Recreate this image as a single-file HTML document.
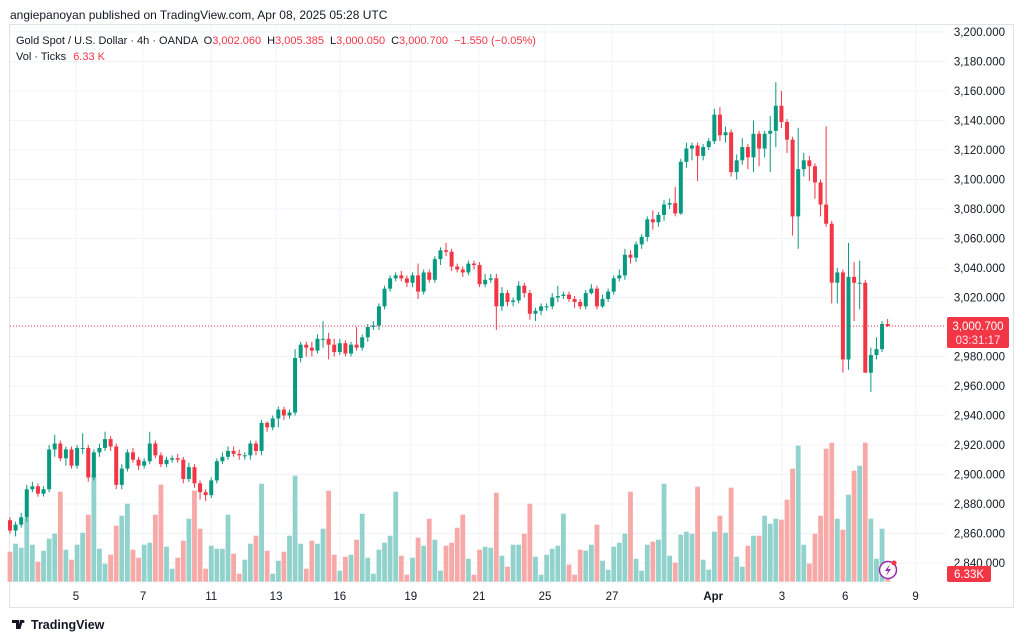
<!DOCTYPE html>
<html><head><meta charset="utf-8"><style>
html,body{margin:0;padding:0;background:#fff;width:1024px;height:641px;overflow:hidden}
svg{display:block;font-family:"Liberation Sans",sans-serif}
</style></head><body>
<svg id="chart" width="1024" height="641" viewBox="0 0 1024 641" xmlns="http://www.w3.org/2000/svg">
<rect x="0" y="0" width="1024" height="641" fill="#fff"/>
<text x="10" y="19" font-size="12" fill="#131722">angiepanoyan published on TradingView.com, Apr 08, 2025 05:28 UTC</text>
<rect x="9.5" y="24.5" width="1004" height="583" fill="none" stroke="#e0e3eb"/>
<g id="grid"></g>
<g id="vols"></g>
<g id="candles"></g>
<line x1="10" x2="946" y1="326" y2="326" stroke="#f23645" stroke-width="1" stroke-dasharray="1,2"/>
<g id="yaxis"></g>
<g id="xaxis"></g>
<g font-size="11">
<text x="16" y="44" fill="#131722">Gold Spot / U.S. Dollar · 4h · OANDA <tspan dx="3">O</tspan><tspan fill="#f23645">3,002.060</tspan><tspan dx="6">H</tspan><tspan fill="#f23645">3,005.385</tspan><tspan dx="6">L</tspan><tspan fill="#f23645">3,000.050</tspan><tspan dx="6">C</tspan><tspan fill="#f23645">3,000.700</tspan><tspan dx="6" fill="#f23645">−1.550 (−0.05%)</tspan></text>
<text x="16" y="60" fill="#131722">Vol · Ticks <tspan dx="4" fill="#f23645">6.33 K</tspan></text>
</g>
<g>
<rect x="947" y="317" width="62" height="31" rx="2" fill="#f23645"/>
<text x="978" y="330" font-size="11.5" fill="#fff" text-anchor="middle">3,000.700</text>
<text x="978" y="344" font-size="11.5" fill="#fde" text-anchor="middle">03:31:17</text>
</g>
<g>
<rect x="947" y="566" width="44" height="16" rx="2" fill="#f23645"/>
<text x="969" y="578" font-size="11.5" fill="#fff" text-anchor="middle">6.33K</text>
</g>
<g>
<circle cx="888" cy="570" r="8.5" fill="#fff" stroke="#9c27b0" stroke-width="1.5"/>
<path d="M890 564 L885 571 L888 571 L886 576 L891 569 L888 569 Z" fill="#9c27b0"/>
<circle cx="894" cy="563" r="2.5" fill="#f23645"/>
</g>
<g>
<path d="M12 620 h7 v9 h-3 v-6 h-4 z M20 620 h3 l-2.5 9 h-2.5 z" fill="#131722"/>
<circle cx="23" cy="621.5" r="1.5" fill="#131722"/>
<text x="31" y="629" font-size="12.5" font-weight="bold" fill="#131722">TradingView</text>
</g>
</svg>
<script>
const closes = [2862,2866,2871,2890,2892,2887,2890,2917,2921,2911, 2917,2906,2918,2918,2898,2915,2918,2924,2919,2893, 2904,2915,2910,2906,2909,2921,2913,2907,2910,2911, 2910,2897,2905,2894,2888,2886,2896,2909,2912,2916, 2914,2913,2913,2921,2916,2935,2932,2938,2944,2940, 2942,2979,2988,2986,2984,2992,2992,2988,2983,2989, 2982,2988,2986,2993,3000,3001,3014,3026,3033,3035, 3033,3030,3035,3024,3037,3032,3046,3052,3051,3041, 3039,3037,3043,3042,3029,3032,3033,3014,3023,3017, 3018,3028,3023,3009,3011,3014,3014,3020,3021,3022, 3019,3017,3014,3023,3026,3014,3019,3024,3033,3035, 3049,3047,3056,3061,3073,3071,3076,3083,3084,3077, 3112,3121,3123,3116,3122,3126,3144,3130,3132,3105, 3113,3122,3115,3131,3121,3131,3133,3150,3139,3127, 3075,3107,3113,3109,3098,3083,3070,3030,3037,2978, 3034,3030,3030,2969,2981,2985,3002.06,3000.7];
const firstOpen = 2869;
const highs = [2871,2868,2874,2893,2895,2894,2892,2920,2927,2923, 2919,2919,2920,2928,2920,2917,2921,2929,2926,2921, 2907,2917,2918,2912,2911,2929,2923,2915,2912,2913, 2914,2912,2908,2907,2896,2890,2898,2911,2915,2919, 2919,2917,2915,2923,2923,2937,2936,2940,2946,2946, 2944,2985,2990,2990,2990,2995,3004,2996,2992,2992, 2991,2990,3000,2995,3002,3004,3016,3028,3035,3037, 3038,3035,3037,3043,3039,3039,3048,3054,3057,3053, 3043,3041,3045,3045,3044,3036,3036,3036,3027,3025, 3020,3031,3030,3025,3013,3016,3016,3023,3028,3024, 3024,3021,3019,3025,3029,3028,3022,3026,3035,3039, 3053,3052,3058,3063,3075,3079,3078,3086,3087,3095, 3114,3125,3125,3125,3124,3128,3148,3149,3136,3134, 3117,3128,3124,3140,3133,3133,3143,3166,3160,3141, 3129,3135,3118,3116,3111,3100,3136,3072,3040,3039, 3057,3044,3045,3032,2986,2993,3004,3005.4];
const lows = [2860,2858,2864,2868,2888,2885,2885,2888,2912,2909, 2906,2904,2904,2914,2895,2896,2912,2916,2916,2890, 2890,2902,2908,2903,2904,2907,2911,2905,2905,2908, 2908,2894,2895,2891,2883,2882,2884,2894,2907,2910, 2912,2910,2910,2910,2913,2913,2929,2930,2932,2937, 2938,2940,2976,2980,2980,2982,2986,2978,2980,2981, 2980,2980,2984,2984,2990,2998,2998,3012,3024,3031, 3031,3027,3027,3019,3022,3030,3030,3042,3048,3038, 3037,3034,3035,3039,3027,3027,3030,2998,3011,3014, 3014,3016,3020,3005,3004,3008,3011,3012,3017,3019, 3017,3013,3012,3012,3022,3012,3013,3017,3022,3031, 3032,3043,3044,3053,3058,3066,3068,3072,3080,3075, 3076,3108,3113,3099,3113,3120,3124,3126,3125,3102, 3100,3110,3107,3105,3109,3115,3105,3122,3135,3118, 3062,3053,3102,3099,3087,3075,3068,3016,3016,2969, 2971,3004,3012,2969,2956,2978,2983,3000];
const volumes = [30,38,34,64,37,20,31,43,48,90, 32,22,37,49,67,108,33,18,27,56, 66,78,32,24,37,39,67,97,35,13, 24,41,63,91,53,13,36,33,33,67, 28,8,22,38,46,98,31,8,21,30, 46,106,38,13,41,38,53,91,27,11, 25,27,42,68,24,8,32,39,46,90, 26,7,24,44,36,63,42,11,36,39, 54,67,23,7,32,35,34,89,26,15, 37,37,48,78,25,7,27,33,36,68, 17,7,32,31,37,57,21,12,35,39, 48,90,23,11,37,40,42,98,26,19, 47,50,48,95,22,12,50,66,49,94, 25,15,36,46,46,66,58,63,62,82, 113,136,37,18,48,66,133,139,63,52, 87,111,116,139,63,23,53,3];
const priceTicks = [2840,2860,2880,2900,2920,2940,2960,2980,3000,3020,3040,3060,3080,3100,3120,3140,3160,3180,3200];
const dateLabels = ['5','7','11','13','16','19','21','25','27','Apr','3','6','9'];
const dateIndex = [11.8,23.8,36,47.6,59,71.7,83.9,95.7,107.7,125.8,138.1,149.4,162];

const NS='http://www.w3.org/2000/svg';
const yP = p => 32 + (3200 - p) * 1.475;
const xI = i => 10 + i * 5.59;
const yV = v => 581.7 - v * 1.0;
function mk(tag, attrs, parent){const e=document.createElementNS(NS,tag);for(const k in attrs)e.setAttribute(k,attrs[k]);parent.appendChild(e);return e;}
const grid=document.getElementById('grid'), vg=document.getElementById('vols'), cg=document.getElementById('candles'), ya=document.getElementById('yaxis'), xa=document.getElementById('xaxis');

priceTicks.forEach(p=>{
  const l=mk('line',{x1:10,x2:946,y1:yP(p),y2:yP(p),stroke:'#f0f3fa'},grid);
  
  
  const t=mk('text',{x:1005,y:yP(p)+4,'font-size':11.5,fill:'#131722','text-anchor':'end'},ya);
  
  
  t.textContent=p.toLocaleString('en-US')+'.000';
});
dateLabels.forEach((d,k)=>{
  const x=xI(dateIndex[k]);
  const l=mk('line',{x1:x,x2:x,y1:25,y2:583,stroke:'#f0f3fa'},grid);
  
  
  const t=mk('text',{x:x,y:600,'font-size':11.5,fill:'#131722','text-anchor':'middle','font-weight':d==='Apr'?'bold':'normal'},xa);
  
  
  t.textContent=d;
});

closes.forEach((c,i)=>{
  const o = i===0 ? firstOpen : closes[i-1];
  const up = c>=o;
  const col = up ? '#089981' : '#f23645';
  const x = xI(i);
  const vb=mk('rect',{x:x-2.4,y:yV(volumes[i]),width:4.8,height:volumes[i]*1.0,fill:up?'#92d2cc':'#f7a9a7'},vg);
  
  
  const g=mk('g',{},cg);
  
  
  mk('line',{x1:x,x2:x,y1:yP(highs[i]),y2:yP(lows[i]),stroke:col,'stroke-width':1},g);
  const top=yP(Math.max(o,c)), bot=yP(Math.min(o,c));
  mk('rect',{x:x-2,y:top,width:4,height:Math.max(1,bot-top),fill:col},g);
});
</script>
</body></html>
